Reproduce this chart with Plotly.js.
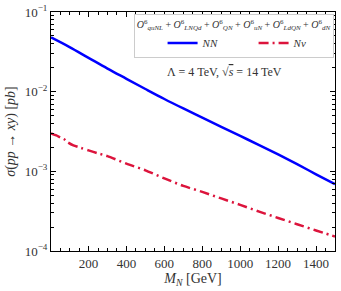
<!DOCTYPE html>
<html><head><meta charset="utf-8">
<script src="https://cdn.plot.ly/plotly-3.0.1.min.js"></script>
<style>html,body{margin:0;padding:0;background:#fff;}#chart{width:341px;height:291px;}</style>
</head><body><div id="chart"></div>
<script>
const massNN = [2, 100, 200, 300, 400, 500, 600, 700, 800, 900, 1000, 1100, 1200, 1300, 1400, 1500];
const sigmaNN = [0.0480, 0.0363, 0.0266, 0.0195, 0.0145, 0.0108, 0.00809, 0.00615, 0.00471, 0.00361, 0.00278, 0.00214, 0.00163, 0.00123, 0.000918, 0.000689];
const massNnu = [2, 30, 50, 60, 70, 90, 120, 160, 200, 250, 300, 400, 500, 600, 700, 800, 900, 1000, 1100, 1200, 1300, 1400, 1500];
const sigmaNnu = [0.00300, 0.00282, 0.00268, 0.00262, 0.00255, 0.00232, 0.00212, 0.00197, 0.00183, 0.00168, 0.00155, 0.00125, 0.00103, 0.000815, 0.000656, 0.000552, 0.000457, 0.000379, 0.000312, 0.000260, 0.000217, 0.000181, 0.000152];
const xTicks = [200, 400, 600, 800, 1000, 1200, 1400];
const yTicks = [1e-4, 1e-3, 1e-2, 1e-1];
const yTickText = ['10<sup>−4</sup>', '10<sup>−3</sup>', '10<sup>−2</sup>', '10<sup>−1</sup>'];
const legendTitle = '<i>O</i><sup>6</sup><sub><i>quNL</i></sub> + <i>O</i><sup>6</sup><sub><i>LNQd</i></sub> + <i>O</i><sup>6</sup><sub><i>QN</i></sub> + <i>O</i><sup>6</sup><sub><i>uN</i></sub> + <i>O</i><sup>6</sup><sub><i>LdQN</i></sub> + <i>O</i><sup>6</sup><sub><i>dN</i></sub>';
const annText = 'Λ = 4 TeV, √<span style="text-decoration:overline"><i>s</i></span> = 14 TeV';

const font = 'Liberation Serif, DejaVu Serif, serif';
const traces = [
  {x: massNN, y: sigmaNN, mode: 'lines', name: '<i>NN</i>', line: {color: '#0000ff', width: 2.5, shape: 'spline', smoothing: 1}},
  {x: massNnu, y: sigmaNnu, mode: 'lines', name: '<i>Nν</i>', line: {color: '#dc143c', width: 2.5, dash: '10px,4px,2px,4px', shape: 'spline', smoothing: 0.6}}
];
const axCommon = {
  showline: true, linecolor: '#000', linewidth: 1, mirror: 'ticks',
  ticks: 'inside', ticklen: 5, tickwidth: 1, tickcolor: '#000',
  showgrid: false, zeroline: false,
  tickfont: {family: font, size: 13, color: '#333'}
};
const layout = {
  width: 341, height: 291,
  margin: {l: 51, r: 6, t: 12, b: 40},
  paper_bgcolor: '#fff', plot_bgcolor: '#fff',
  font: {family: font, color: '#333'},
  showlegend: true,
  xaxis: Object.assign({}, axCommon, {
    range: [2, 1500], tickvals: xTicks, ticktext: xTicks.map(String),
    minor: {ticks: 'inside', ticklen: 3, dtick: 50, tick0: 0, tickcolor: '#000', showgrid: false},
    title: {text: '<i>M</i><sub><i>N</i></sub> [GeV]', font: {family: font, size: 14, color: '#333'}, standoff: 3}
  }),
  yaxis: Object.assign({}, axCommon, {
    type: 'log', range: [-4, -1], tickvals: yTicks, ticktext: yTickText,
    minor: {ticks: 'inside', ticklen: 3, dtick: 'D1', tickcolor: '#000', showgrid: false},
    title: {text: '<i>σ</i>(<i>pp</i> → <i>xy</i>) [<i>pb</i>]', font: {family: font, size: 14, color: '#333'}, standoff: 5}
  }),
  legend: {
    x: 0.995, xanchor: 'right', y: 0.99, yanchor: 'top',
    orientation: 'h', bgcolor: '#fff', bordercolor: '#ccc', borderwidth: 1,
    font: {family: font, size: 11, color: '#333'},
    title: {text: legendTitle, side: 'top center', font: {family: font, size: 10, color: '#333'}},
    itemwidth: 30, tracegroupgap: 0, indentation: 28,
    entrywidth: 18, entrywidthmode: 'pixels'
  },
  annotations: [{
    text: annText, xref: 'paper', yref: 'paper', x: 0.61, y: 0.75, xanchor: 'center', yanchor: 'middle',
    showarrow: false, font: {family: font, size: 12, color: '#333'}
  }]
};
Plotly.newPlot('chart', traces, layout, {staticPlot: true, displayModeBar: false});
</script>
</body></html>
